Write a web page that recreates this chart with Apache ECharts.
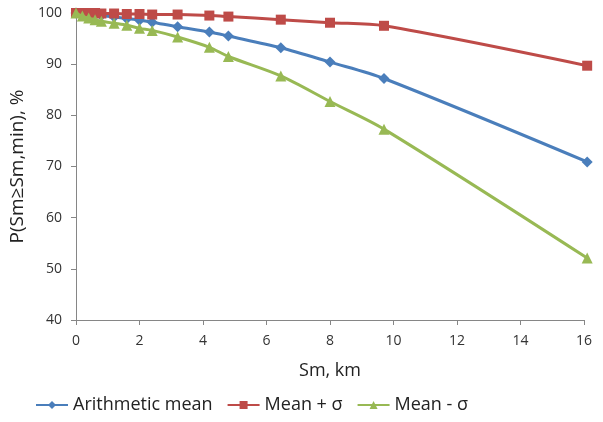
<!DOCTYPE html>
<html>
<head>
<meta charset="utf-8">
<script src="https://cdn.jsdelivr.net/npm/echarts@6/dist/echarts.min.js"></script>
<style>
  html, body { margin: 0; padding: 0; background: #fff; }
  #chart { width: 603px; height: 422px; }
</style>
</head>
<body>
<div id="chart"></div>
<script>
// 距离 Sm, km
var sm = [0, 0.2, 0.4, 0.6, 0.8, 1.2, 1.6, 2.0, 2.4, 3.2, 4.2, 4.8, 6.45, 8.0, 9.7, 16.1];
// 三条曲线
var meanVals  = [100, 99.9, 99.8, 99.6, 99.5, 99.2, 98.9, 98.6, 98.2, 97.3, 96.3, 95.5, 93.2, 90.4, 87.2, 70.9];
var plusVals  = [100, 100, 100, 100, 99.9, 99.9, 99.8, 99.8, 99.7, 99.7, 99.5, 99.3, 98.7, 98.1, 97.5, 89.7];
var minusVals = [100, 99.4, 99.0, 98.7, 98.4, 98.0, 97.6, 97.0, 96.6, 95.3, 93.3, 91.5, 87.7, 82.7, 77.3, 52.1];
var names = ['Arithmetic mean', 'Mean + σ', 'Mean - σ'];

function pairs(ys) {
  return sm.map(function (x, i) { return [x, ys[i]]; });
}

var font = 'Open Sans';
var chart = echarts.init(document.getElementById('chart'));

var option = {
  animation: false,
  textStyle: { fontFamily: font },
  grid: { left: 76, right: 19, top: 13, bottom: 102 },
  legend: {
    bottom: 3,
    left: 30,
    itemGap: 14,
    itemWidth: 32,
    itemHeight: 10,
    textStyle: { fontSize: 18, color: '#222', fontFamily: font },
    data: names
  },
  xAxis: {
    type: 'value',
    min: 0, max: 16, interval: 2,
    name: 'Sm, km',
    nameLocation: 'middle',
    nameGap: 42,
    nameTextStyle: { fontSize: 18, color: '#222' },
    axisLine: { lineStyle: { color: '#868686' } },
    axisTick: { show: true, length: 5, lineStyle: { color: '#868686' } },
    axisLabel: { fontSize: 14, color: '#333', margin: 14 },
    splitLine: { show: false }
  },
  yAxis: {
    type: 'value',
    min: 40, max: 100, interval: 10,
    name: 'P(Sm≥Sm,min), %',
    nameLocation: 'middle',
    nameGap: 39,
    nameTextStyle: { fontSize: 19, color: '#222' },
    axisLine: { show: true, lineStyle: { color: '#868686' } },
    axisTick: { show: true, length: 5, lineStyle: { color: '#868686' } },
    axisLabel: { fontSize: 14, color: '#333', margin: 14 },
    splitLine: { show: false }
  },
  series: [
    {
      name: names[0], type: 'line', smooth: 0.3, clip: false,
      data: pairs(meanVals),
      symbol: 'diamond', symbolSize: 11,
      lineStyle: { width: 3, color: '#4a7ebb' },
      itemStyle: { color: '#4a7ebb' },
      z: 3
    },
    {
      name: names[1], type: 'line', smooth: 0.3, clip: false,
      data: pairs(plusVals),
      symbol: 'rect', symbolSize: 10,
      lineStyle: { width: 3, color: '#be4b48' },
      itemStyle: { color: '#be4b48' },
      z: 4
    },
    {
      name: names[2], type: 'line', smooth: 0.3, clip: false,
      data: pairs(minusVals),
      symbol: 'triangle', symbolSize: 11,
      lineStyle: { width: 3, color: '#98b954' },
      itemStyle: { color: '#98b954' },
      z: 5
    }
  ]
};

chart.setOption(option);
</script>
</body>
</html>
